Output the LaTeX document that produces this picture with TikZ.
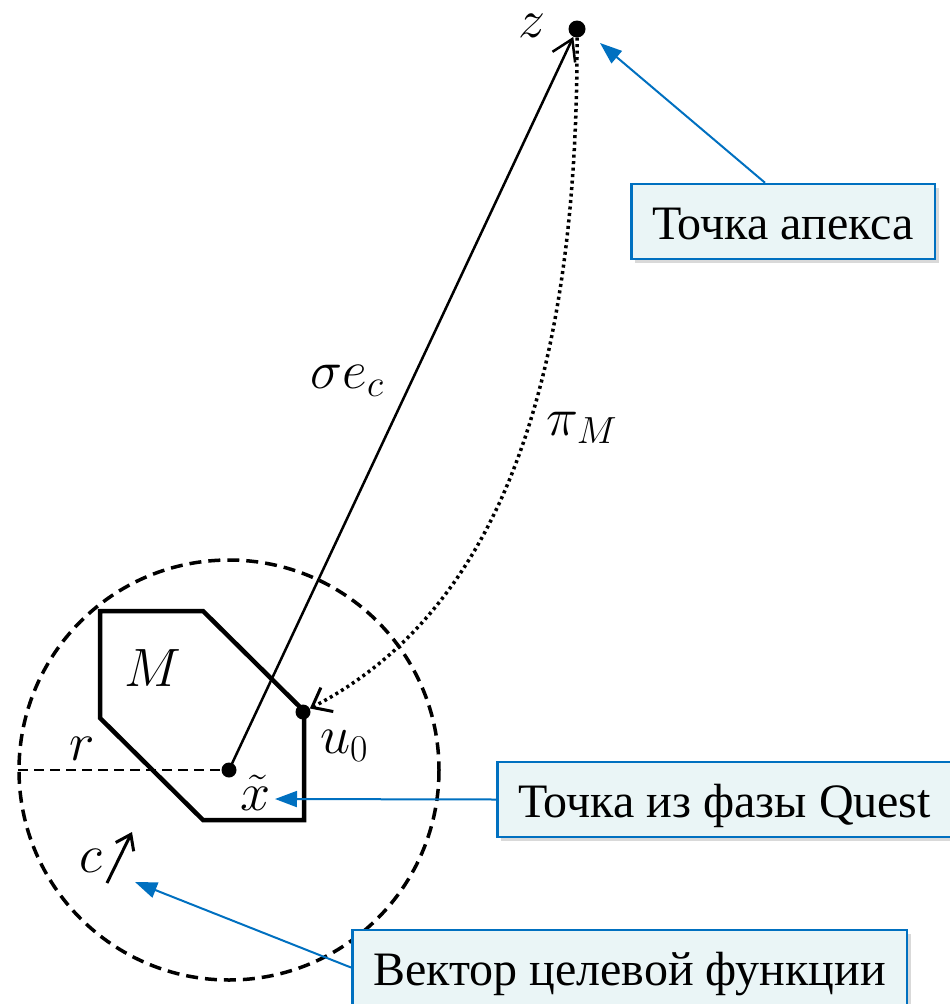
\RequirePackage{fix-cm}
\documentclass[tikz,border=0pt]{standalone}
\usepackage{fontspec}
\setmainfont{Liberation Serif}
\usetikzlibrary{arrows.meta,shadows,calc}
\definecolor{cblue}{RGB}{0,112,192}
\definecolor{cfill}{RGB}{234,245,246}
\begin{document}
\begin{tikzpicture}[x=1pt,y=-1pt,
  dotnode/.style={circle,fill=black,inner sep=0pt,minimum size=#1},
  mlabel/.style={font=\fontsize{54}{64}\selectfont, inner sep=0pt, anchor=base},
  callout/.style={draw=cblue, line width=2.5pt, fill=cfill,
    font=\fontsize{48}{56}\selectfont, inner xsep=21pt, inner ysep=0pt,
    text height=55pt, text depth=20pt,
    drop shadow={shadow xshift=4pt, shadow yshift=-4pt, opacity=0.3},
    anchor=west},
  callarrow/.style={cblue, line width=2pt, -{Triangle[length=22pt,width=16pt]}},
  circdash/.style={line width=3.5pt, dash pattern=on 12pt off 7pt},
  rdash/.style={line width=1.5pt, dash pattern=on 10pt off 6pt},
  polyline/.style={line width=4.5pt, line join=miter},
  sigline/.style={line width=2.5pt, -{Straight Barb[length=20pt,width=25pt,line width=2.5pt]}},
  pidots/.style={line width=3.5pt, dash pattern=on 3pt off 3.5pt,
    -{Straight Barb[length=17pt,width=27pt,line width=3pt]}},
  carrow/.style={line width=3pt, -{Straight Barb[length=14pt,width=20pt,line width=3pt]}}
]
\useasboundingbox (0,0) rectangle (950,1004);

% points
\coordinate (xtc) at (229,770);
\coordinate (rl) at (18,770);

% circle and radius
\draw[circdash] (xtc) circle[radius=210];
\draw[rdash] (rl) -- (xtc);

% polygon M
\draw[polyline] (100,611) -- (203,611) -- (304,711) -- (304,820) -- (203,820) -- (100,718) -- cycle;

% dots
\node[dotnode=17pt] (z) at (577,29) {};
\node[dotnode=15pt] (u0) at (303,712) {};
\node[dotnode=15pt] (xt) at (xtc) {};

% sigma e_c arrow
\draw[sigline] (xt.center) -- (z);
% pi_M dotted curve
\draw[pidots] (z) .. controls (578,380) and (500,610) .. (u0);

% c arrow
\coordinate (ca) at (107,883);
\coordinate (cb) at (132,832);
\draw[carrow] (ca) -- (cb);

% math labels
\node[mlabel] (zl) at (532,37) {$z$};
\node[mlabel] (sl) at (347,388) {$\sigma e_c$};
\node[mlabel] (pl) at (582,435) {$\pi_M$};
\node[mlabel] (ml) at (153,686) {$M$};
\node[mlabel] (rlab) at (82,760) {$r$};
\node[mlabel] (ul) at (344,753) {$u_0$};
\node[mlabel] (xl) at (256,810) {$\tilde{x}$};
\node[mlabel] (cl) at (91,872) {$c$};

% callouts
\node[callout] (apex) at (630,221.5) {Точка апекса};
\node[callout] (quest) at (496,799.5) {Точка из фазы Quest};
\node[callout] (vec) at (351,967.5) {Вектор целевой функции};

\coordinate (ta) at (600,43);
\coordinate (tq) at (275,799);
\coordinate (tv) at (135,882);
\draw[callarrow] ([xshift=135pt]apex.north west) -- (ta);
\draw[callarrow] (quest.west) -- (tq);
\draw[callarrow] (vec.west) -- (tv);
\end{tikzpicture}
\end{document}
